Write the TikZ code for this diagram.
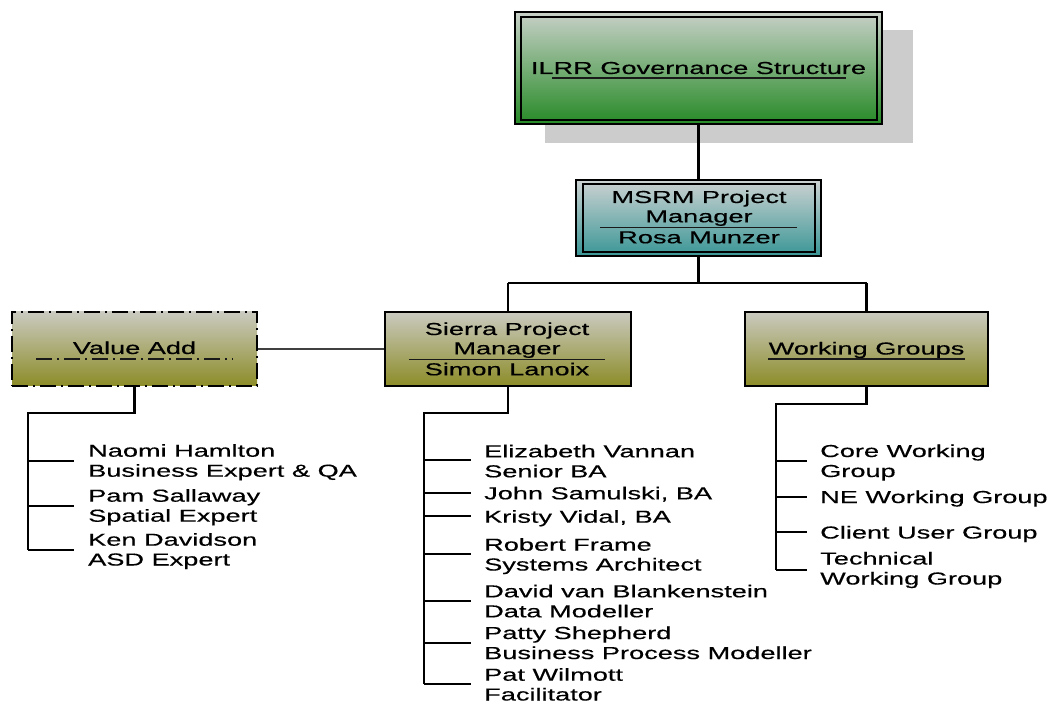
\documentclass[tikz,border=0pt]{standalone}
\usepackage{fontspec}
\setmainfont{Liberation Sans}[FakeStretch=1.57, FakeBold=0.4]
\definecolor{greentop}{RGB}{200,208,200}
\definecolor{greenbot}{RGB}{38,138,38}
\definecolor{tealtop}{RGB}{205,210,210}
\definecolor{tealbot}{RGB}{58,150,150}
\definecolor{olivetop}{RGB}{202,202,192}
\definecolor{olivebot}{RGB}{140,140,40}
\definecolor{shadowgray}{RGB}{204,204,204}
\definecolor{linkgray}{RGB}{64,64,64}
\begin{document}
\begin{tikzpicture}[x=1pt,y=-1pt,
  txtfont/.style={font=\fontsize{17.3}{20}\selectfont},
  boxlabel/.style={txtfont, inner sep=0pt, anchor=base},
  member/.style={txtfont, inner sep=0pt, anchor=base west},
  plainbox/.style={rectangle, inner sep=0pt, draw=black},
  greenbox/.style={plainbox, line width=1.2pt, top color=greentop, bottom color=greenbot},
  tealbox/.style={plainbox, line width=1.2pt, top color=tealtop, bottom color=tealbot},
  olivebox/.style={plainbox, line width=1.6pt, top color=olivetop, bottom color=olivebot},
  innerframe/.style={plainbox, line width=2.4pt},
  dashdot/.style={dash pattern=on 16pt off 5pt on 2pt off 5pt},
  trunk/.style={line width=2.9pt, black},
  twig/.style={line width=1.7pt, black},
  rule/.style={line width=1.5pt, black!90}
]
\useasboundingbox (0,0) rectangle (1050,703);

% --- top box with its drop shadow
\node[rectangle, fill=shadowgray, minimum width=368pt, minimum height=113pt, inner sep=0pt] (ilrrshadow) at (729,86.5) {};
\node[greenbox, minimum width=367pt, minimum height=112pt] (ilrr) at (698.5,68) {};
\node[innerframe, minimum width=356pt, minimum height=103pt] (ilrrframe) at (699,68.5) {};
\node[boxlabel] (ilrrtext) at (698.5,74) {ILRR Governance Structure};
\draw[rule] (552,78) -- (846,78);

% --- MSRM project manager
\node[tealbox, minimum width=245pt, minimum height=76pt] (msrm) at (698.5,218) {};
\node[innerframe, minimum width=232pt, minimum height=68pt] (msrmframe) at (699,218) {};
\node[boxlabel] (msrmtitle) at (699,203) {MSRM Project};
\node[boxlabel] (msrmtitleb) at (699,222.3) {Manager};
\draw[rule] (600,227.7) -- (797,227.7);
\node[boxlabel] (msrmname) at (699,243.3) {Rosa Munzer};

% --- second level
\node[olivebox, minimum width=246pt, minimum height=74pt] (sierra) at (508,349) {};
\node[boxlabel] (sierratitle) at (507,335) {Sierra Project};
\node[boxlabel] (sierratitleb) at (507,354.3) {Manager};
\draw[rule] (409,359.5) -- (605,359.5);
\node[boxlabel] (sierraname) at (507,375.3) {Simon Lanoix};

\node[olivebox, minimum width=243pt, minimum height=74pt] (wg) at (866.5,349) {};
\node[boxlabel] (wgtext) at (866.5,354.5) {Working Groups};
\draw[rule] (768,359) -- (965,359);

\node[olivebox, dashdot, line width=2pt, minimum width=245pt, minimum height=74pt] (value) at (134.5,349) {};
\node[boxlabel] (valuetext) at (134.5,354) {Value Add};
\draw[rule, dashdot, line width=1.8pt] (36,359) -- (233,359);

% --- connectors between boxes
\coordinate (hub) at (698,283);
\draw[trunk] (ilrr.south) -- (msrm.north);
\draw[trunk] (msrm.south) -- (msrm.south |- hub);
\draw[line width=1.4pt] (sierra.north |- hub) -- (wg.north |- hub);
\draw[trunk] (sierra.north |- hub) -- (sierra.north);
\draw[trunk] (wg.north |- hub) -- (wg.north);
\draw[line width=1.6pt, linkgray] (value.east) -- (sierra.west);

% --- Value Add members
\coordinate (vbend) at (28,413);
\coordinate (vb1) at (74,460.7);
\coordinate (vb2) at (74,505.7);
\coordinate (vb3) at (74,550);
\draw[trunk] (value.south) -- (value.south |- vbend) -- (vbend) -- (vb3 -| vbend);
\foreach \b in {vb1,vb2,vb3} \draw[twig] (\b -| vbend) -- (\b);
\node[member] (naomi) at (88,456.7) {Naomi Hamlton};
\node[member] (naomirole) at (88,476.7) {Business Expert \& QA};
\node[member] (pam) at (88,501.7) {Pam Sallaway};
\node[member] (pamrole) at (88,521.7) {Spatial Expert};
\node[member] (ken) at (88,545.7) {Ken Davidson};
\node[member] (kenrole) at (88,565.5) {ASD Expert};

% --- Sierra team members
\coordinate (sbend) at (424,413);
\coordinate (sb1) at (471,460);
\coordinate (sb2) at (471,493);
\coordinate (sb3) at (471,516);
\coordinate (sb4) at (471,554);
\coordinate (sb5) at (471,601);
\coordinate (sb6) at (471,643);
\coordinate (sb7) at (471,684);
\draw[trunk] (sierra.south) -- (sierra.south |- sbend) -- (sbend) -- (sb7 -| sbend);
\foreach \b in {sb1,sb2,sb3,sb4,sb5,sb6,sb7} \draw[twig] (\b -| sbend) -- (\b);
\node[member] (eliz) at (484,457.3) {Elizabeth Vannan};
\node[member] (elizrole) at (484,477.3) {Senior BA};
\node[member] (john) at (484,499.3) {John Samulski, BA};
\node[member] (kristy) at (484,522.7) {Kristy Vidal, BA};
\node[member] (robert) at (484,550.7) {Robert Frame};
\node[member] (robertrole) at (484,570.5) {Systems Architect};
\node[member] (david) at (484,597.3) {David van Blankenstein};
\node[member] (davidrole) at (484,617.3) {Data Modeller};
\node[member] (patty) at (484,639) {Patty Shepherd};
\node[member] (pattyrole) at (484,659) {Business Process Modeller};
\node[member] (pat) at (484,680.7) {Pat Wilmott};
\node[member] (patrole) at (484,700.5) {Facilitator};

% --- working groups
\coordinate (wbend) at (776,404);
\coordinate (wb1) at (807,461);
\coordinate (wb2) at (807,497);
\coordinate (wb3) at (807,532);
\coordinate (wb4) at (807,570);
\draw[trunk] (wg.south) -- (wg.south |- wbend) -- (wbend) -- (wb4 -| wbend);
\foreach \b in {wb1,wb2,wb3,wb4} \draw[twig] (\b -| wbend) -- (\b);
\node[member] (core) at (820,457) {Core Working};
\node[member] (corerole) at (820,477) {Group};
\node[member] (ne) at (820,503) {NE Working Group};
\node[member] (client) at (820,538.5) {Client User Group};
\node[member] (tech) at (820,564.5) {Technical};
\node[member] (techb) at (820,584.5) {Working Group};
\end{tikzpicture}
\end{document}
